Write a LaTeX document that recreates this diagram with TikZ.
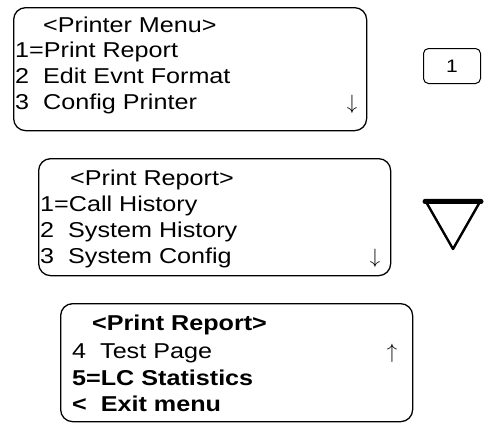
\documentclass[tikz,border=0pt]{standalone}
\usepackage{fontspec}
\setmainfont{Liberation Sans}[FakeStretch=1.17]
\usetikzlibrary{positioning}
\tikzset{
  menubox/.style={draw, line width=1.3pt, rounded corners=12pt, anchor=north west, inner sep=0pt},
  keybox/.style={draw, line width=1pt, rounded corners=5pt, anchor=north west, inner sep=0pt},
  lcd/.style={anchor=base west, inner sep=0pt, font=\fontsize{21.5}{24}\selectfont},
  arr/.style={anchor=base, inner sep=0pt, font=\fontsize{21.5}{24}\selectfont},
}
\begin{document}
\begin{tikzpicture}[x=1pt,y=-1pt]
\useasboundingbox (0,0) rectangle (500,424);

% printer menu
\node[menubox, minimum width=353pt, minimum height=123pt] (pm) at (13,7) {};
\node[lcd] (pm0) at (43,32) {<Printer Menu>};
\node[lcd] (pm1) at (15,57) {1=Print Report};
\node[lcd] (pm2) at (15,83) {2~~Edit Evnt Format};
\node[lcd] (pm3) at (15,109) {3~~Config Printer};
\node[arr] (pmd) at (352,109) {$\downarrow$};

% key 1
\node[keybox, minimum width=57pt, minimum height=35pt] (k1) at (423,48) {};
\node[lcd, anchor=center, font=\fontsize{18}{20}\selectfont] (k1t) at (k1.center) {1};

% print report, first page
\node[menubox, minimum width=352pt, minimum height=117pt] (pr) at (38,158) {};
\node[lcd] (pr0) at (70,185) {<Print Report>};
\node[lcd] (pr1) at (40,211) {1=Call History};
\node[lcd] (pr2) at (40,237) {2~~System History};
\node[lcd] (pr3) at (40,263) {3~~System Config};
\node[arr] (prd) at (375,263) {$\downarrow$};

% down key
\coordinate (tl) at (425,200);
\coordinate (tr) at (481,200);
\coordinate (tb) at (453,249);
\draw[line width=2.4pt, line join=round] (tl) -- (tr) -- (tb) -- cycle;
\draw[line width=5pt, line cap=round] ([yshift=-1.5pt]tl) -- ([yshift=-1.5pt]tr);

% print report, second page
\node[menubox, minimum width=352pt, minimum height=118pt] (ps) at (60,303) {};
\node[lcd, font=\fontsize{21.5}{24}\selectfont\bfseries] (ps0) at (92,330) {<Print Report>};
\node[lcd] (ps1) at (72,358) {4~~Test Page};
\node[lcd, font=\fontsize{21.5}{24}\selectfont\bfseries] (ps2) at (72,385) {5=LC Statistics};
\node[lcd, font=\fontsize{21.5}{24}\selectfont\bfseries] (ps3) at (72,411) {<~~Exit menu};
\node[arr] (psu) at (392,358) {$\uparrow$};
\end{tikzpicture}
\end{document}
